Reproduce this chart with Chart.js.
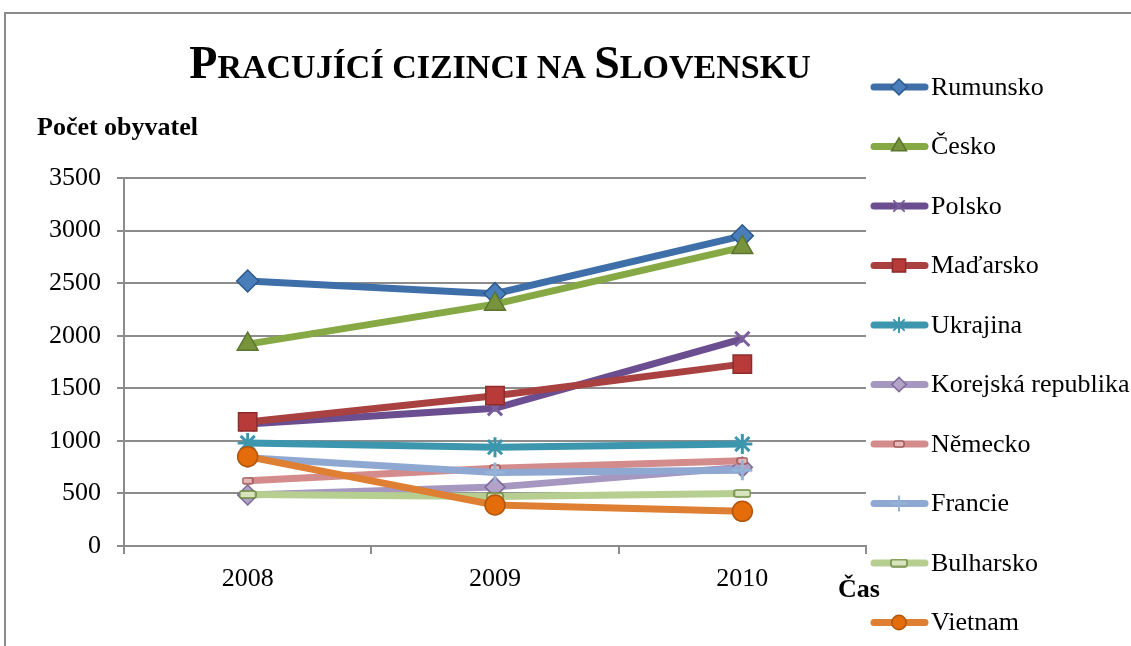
<!DOCTYPE html>
<html>
<head>
<meta charset="utf-8">
<script src="https://cdn.jsdelivr.net/npm/chart.js@4.4.1/dist/chart.umd.min.js"></script>
<style>
  html, body { margin: 0; padding: 0; background: #fff; }
  #wrap { position: relative; width: 1131px; height: 646px; overflow: hidden; }
</style>
</head>
<body>
<div id="wrap"><canvas id="chart" width="1131" height="646"></canvas></div>
<script>
const years = ["2008", "2009", "2010"];
const countries = ["Rumunsko", "Česko", "Polsko", "Maďarsko", "Ukrajina",
  "Korejská republika", "Německo", "Francie", "Bulharsko", "Vietnam"];
const rumunsko = [2520, 2400, 2950];
const cesko = [1920, 2300, 2840];
const polsko = [1160, 1310, 1970];
const madarsko = [1180, 1430, 1730];
const ukrajina = [980, 940, 970];
const korea = [485, 560, 750];
const nemecko = [620, 740, 810];
const francie = [840, 700, 720];
const bulharsko = [490, 470, 500];
const vietnam = [850, 390, 330];
const yTicks = [0, 500, 1000, 1500, 2000, 2500, 3000, 3500];

const serif = "'Liberation Serif', 'Times New Roman', serif";
const gridGray = "#8c8c8c";

function pill(w, h, fill, stroke) {
  const c = document.createElement("canvas");
  c.width = w;
  c.height = h;
  const g = c.getContext("2d");
  g.fillStyle = fill;
  g.strokeStyle = stroke;
  g.lineWidth = 1.5;
  g.beginPath();
  g.roundRect(1, 1, w - 2, h - 2, 2);
  g.fill();
  g.stroke();
  return c;
}

const seriesValues = [rumunsko, cesko, polsko, madarsko, ukrajina, korea, nemecko, francie, bulharsko, vietnam];
const lineColors = ["#3f6fa8", "#86a845", "#6b4e8f", "#a84140", "#3c96ae",
  "#a597c0", "#d38b8b", "#8fa8d1", "#b6cf91", "#de7f34"];
const markerStyles = ["rectRot", "triangle", "crossRot", "rect", "star",
  "rectRot", pill(12, 8, "#e6b9b8", "#a05a5a"), "cross", pill(18, 9, "#d7e4bd", "#6e8a3e"), "circle"];
const markerFill = ["#4a7ebb", "#77933c", "#7a5f9c", "#b83b3a", "#4bacc6",
  "#b3a2c7", "#e6b9b8", "#95b3d7", "#d7e4bd", "#e46c0a"];
const markerBorder = ["#2c5a8c", "#5b7530", "#7a5f9c", "#8c2d2c", "#3c96ae",
  "#7d6a99", "#a05a5a", "#95b3d7", "#6e8a3e", "#b0560a"];
const markerRadius = [11, 12, 10, 13, 10, 10, 6, 10, 6, 10];

const datasets = countries.map((name, i) => ({
  label: name,
  data: seriesValues[i],
  borderColor: lineColors[i],
  borderWidth: 7,
  tension: 0,
  pointStyle: markerStyles[i],
  pointRadius: markerRadius[i],
  pointHoverRadius: markerRadius[i],
  pointBackgroundColor: markerFill[i],
  pointBorderColor: markerBorder[i],
  pointBorderWidth: (i === 2 || i === 4 || i === 7) ? 3 : 1.5,
  order: countries.length - i,
}));

const decor = {
  id: "decor",
  afterDraw(chart) {
    const ctx = chart.ctx;
    ctx.save();
    // outer frame
    ctx.strokeStyle = "#8a8a8a";
    ctx.lineWidth = 2;
    ctx.strokeRect(5, 13, 1200, 700);

    // title in small caps
    const parts = [["P", 46], ["RACUJÍCÍ CIZINCI NA ", 34], ["S", 46], ["LOVENSKU", 34]];
    let total = 0;
    for (const [t, s] of parts) {
      ctx.font = `bold ${s}px ${serif}`;
      total += ctx.measureText(t).width;
    }
    let x = 500 - total / 2;
    ctx.fillStyle = "#000";
    ctx.textBaseline = "alphabetic";
    ctx.textAlign = "left";
    for (const [t, s] of parts) {
      ctx.font = `bold ${s}px ${serif}`;
      ctx.fillText(t, x, 78);
      x += ctx.measureText(t).width;
    }

    // axis titles
    ctx.font = `bold 26px ${serif}`;
    ctx.fillText("Počet obyvatel", 37, 135);
    ctx.fillText("Čas", 838, 597);

    // legend
    ctx.font = `26px ${serif}`;
    ctx.textBaseline = "middle";
    chart.data.datasets.forEach((ds, i) => {
      const y = 87 + i * 59.5;
      ctx.strokeStyle = ds.borderColor;
      ctx.lineWidth = 7;
      ctx.lineCap = "round";
      ctx.beginPath();
      ctx.moveTo(874, y);
      ctx.lineTo(925, y);
      ctx.stroke();
      ctx.fillStyle = ds.pointBackgroundColor;
      ctx.strokeStyle = ds.pointBorderColor;
      ctx.lineWidth = Math.min(ds.pointBorderWidth, 2);
      Chart.helpers.drawPoint(ctx, {
        pointStyle: ds.pointStyle,
        radius: ds.pointRadius * 0.72,
        rotation: 0,
        borderWidth: Math.min(ds.pointBorderWidth, 2),
      }, 899, y);
      ctx.fillStyle = "#000";
      ctx.fillText(ds.label, 931, y + 1);
    });
    ctx.restore();
  },
};

new Chart(document.getElementById("chart"), {
  type: "line",
  data: { labels: years, datasets },
  plugins: [decor],
  options: {
    responsive: false,
    animation: false,
    layout: { padding: { left: 0, right: 265, top: 178, bottom: 0 } },
    plugins: { legend: { display: false }, title: { display: false }, tooltip: { enabled: false } },
    scales: {
      y: {
        min: 0,
        max: 3500,
        afterBuildTicks(scale) {
          scale.ticks = yTicks.map((v) => ({ value: v }));
        },
        afterFit(scale) {
          scale.width = 124;
        },
        ticks: {
          color: "#000",
          font: { family: serif, size: 26 },
          padding: 16,
          callback(value) {
            return String(value);
          },
        },
        grid: { color: gridGray, lineWidth: 2, tickLength: 7 },
        border: { color: gridGray, width: 2 },
      },
      x: {
        offset: true,
        afterFit(scale) {
          scale.height = 100;
        },
        ticks: { color: "#000", font: { family: serif, size: 26 }, padding: 10 },
        grid: { offset: true, drawOnChartArea: false, color: gridGray, lineWidth: 2, tickLength: 8 },
        border: { color: gridGray, width: 2 },
      },
    },
  },
});
</script>
</body>
</html>
